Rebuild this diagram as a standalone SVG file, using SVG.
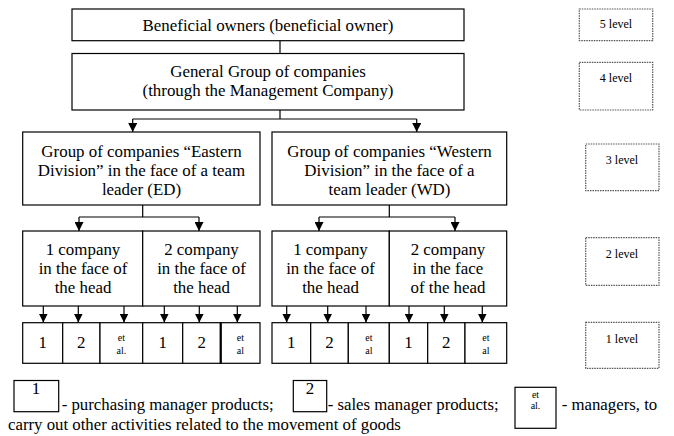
<svg xmlns="http://www.w3.org/2000/svg" width="674" height="436" viewBox="0 0 674 436" font-family="Liberation Serif, Times New Roman, serif">
<defs>
<style>
.b{fill:#fff;stroke:#000;stroke-width:1.2}
.lv{fill:#fff;stroke:#555;stroke-width:1.2;stroke-dasharray:1.5 1}
.t{font-size:16.9px;fill:#000;text-anchor:middle}
.s{font-size:12px;fill:#000;text-anchor:middle}
.x{font-size:10px;fill:#000;text-anchor:middle}
.l{font-size:16.8px;fill:#000}
.c{fill:none;stroke:#000;stroke-width:1.2}
.a{fill:none;stroke:#000;stroke-width:1.2;marker-end:url(#ah)}
</style>
<marker id="ah" viewBox="0 0 10 10" refX="10" refY="5" markerWidth="9" markerHeight="9" markerUnits="userSpaceOnUse" orient="auto">
<path d="M0,0 L10,5 L0,10 z" fill="#000"/>
</marker>
</defs>
<rect width="674" height="436" fill="#fff"/>

<g id="connectors">
<path class="c" d="M280,40.7 V53.5"/>
<path class="c" d="M280,110 V119 M132.7,119 H416.7"/>
<path class="a" d="M132.7,119 V132"/>
<path class="a" d="M416.7,119 V132"/>
<path class="c" d="M142.7,205 V217 M79,217 H199"/>
<path class="a" d="M79,217 V231"/>
<path class="a" d="M199,217 V231"/>
<path class="c" d="M389.3,205 V217 M319,217 H455"/>
<path class="a" d="M319,217 V231"/>
<path class="a" d="M455,217 V231"/>
<path class="a" d="M43.3,306 V322.5"/>
<path class="a" d="M78.3,306 V322.5"/>
<path class="a" d="M124,306 V322.5"/>
<path class="a" d="M164.3,306 V322.5"/>
<path class="a" d="M199.3,306 V322.5"/>
<path class="a" d="M237.3,306 V322.5"/>
<path class="a" d="M286.7,306 V322.5"/>
<path class="a" d="M327.7,306 V322.5"/>
<path class="a" d="M366,306 V322.5"/>
<path class="a" d="M409,306 V322.5"/>
<path class="a" d="M444.3,306 V322.5"/>
<path class="a" d="M482.3,306 V322.5"/>
</g>

<g id="beneficial">
<rect class="b" x="72" y="9" width="392" height="31.7"/>
<text class="t" x="268" y="31">Beneficial owners (beneficial owner)</text>
</g>
<g id="general">
<rect class="b" x="72" y="53.5" width="392" height="56.5"/>
<text class="t" x="268" y="77">General Group of companies</text>
<text class="t" x="268" y="96">(through the Management Company)</text>
</g>
<g id="eastern">
<rect class="b" x="22.7" y="132" width="237.3" height="73"/>
<text class="t" x="141.5" y="157">Group of companies “Eastern</text>
<text class="t" x="141.5" y="176">Division” in the face of a team</text>
<text class="t" x="141.5" y="195">leader (ED)</text>
</g>
<g id="western">
<rect class="b" x="272" y="132" width="234.7" height="73"/>
<text class="t" x="389.5" y="157">Group of companies “Western</text>
<text class="t" x="389.5" y="176">Division” in the face of a</text>
<text class="t" x="389.5" y="195">team leader (WD)</text>
</g>
<g id="ed-company1">
<rect class="b" x="22.7" y="231" width="120" height="75"/>
<text class="t" x="83" y="255">1 company</text>
<text class="t" x="83" y="274">in the face of</text>
<text class="t" x="83" y="293">the head</text>
</g>
<g id="ed-company2">
<rect class="b" x="142.7" y="231" width="117.3" height="75"/>
<text class="t" x="201.5" y="255">2 company</text>
<text class="t" x="201.5" y="274">in the face of</text>
<text class="t" x="201.5" y="293">the head</text>
</g>
<g id="wd-company1">
<rect class="b" x="272" y="231" width="117.3" height="75"/>
<text class="t" x="330.5" y="255">1 company</text>
<text class="t" x="330.5" y="274">in the face of</text>
<text class="t" x="330.5" y="293">the head</text>
</g>
<g id="wd-company2">
<rect class="b" x="389.3" y="231" width="117.4" height="75"/>
<text class="t" x="448" y="255">2 company</text>
<text class="t" x="448" y="274">in the face</text>
<text class="t" x="448" y="293">of the head</text>
</g>

<g id="managers-ed">
<rect class="b" x="22.7" y="322.7" width="40" height="40.6"/>
<rect class="b" x="62.7" y="322.7" width="37.3" height="40.6"/>
<rect class="b" x="100" y="322.7" width="42.7" height="40.6"/>
<rect class="b" x="142.7" y="322.7" width="40" height="40.6"/>
<rect class="b" x="182.7" y="322.7" width="38" height="40.6"/>
<rect class="b" x="220.7" y="322.7" width="39.3" height="40.6"/>
<path d="M220.7,322.7 V363.3" stroke="#000" stroke-width="2.2"/>
<text class="t" x="42.7" y="347.5">1</text>
<text class="t" x="81.3" y="347.5">2</text>
<text class="x" x="121.3" y="341">et</text>
<text class="x" x="121.3" y="354">al.</text>
<text class="t" x="162.7" y="347.5">1</text>
<text class="t" x="201.7" y="347.5">2</text>
<text class="x" x="240.3" y="341">et</text>
<text class="x" x="240.3" y="354">al</text>
</g>
<g id="managers-wd">
<rect class="b" x="272" y="322.7" width="38.7" height="40.6"/>
<rect class="b" x="310.7" y="322.7" width="37.6" height="40.6"/>
<rect class="b" x="348.3" y="322.7" width="41" height="40.6"/>
<rect class="b" x="389.3" y="322.7" width="38.4" height="40.6"/>
<rect class="b" x="427.7" y="322.7" width="37.3" height="40.6"/>
<rect class="b" x="465" y="322.7" width="41.7" height="40.6"/>
<text class="t" x="291.3" y="347.5">1</text>
<text class="t" x="329.5" y="347.5">2</text>
<text class="x" x="368.8" y="341">et</text>
<text class="x" x="368.8" y="354">al</text>
<text class="t" x="408.5" y="347.5">1</text>
<text class="t" x="446.3" y="347.5">2</text>
<text class="x" x="485.8" y="341">et</text>
<text class="x" x="485.8" y="354">al</text>
</g>

<g id="level5">
<rect class="lv" x="579.3" y="9" width="73.4" height="31.7"/>
<text class="s" x="616" y="28">5 level</text>
</g>
<g id="level4">
<rect class="lv" x="579.3" y="62.3" width="73.4" height="47.7"/>
<text class="s" x="616" y="82">4 level</text>
</g>
<g id="level3">
<rect class="lv" x="585.7" y="144" width="73.3" height="46.7"/>
<text class="s" x="622" y="163.5">3 level</text>
</g>
<g id="level2">
<rect class="lv" x="585.7" y="237.7" width="73.3" height="47.6"/>
<text class="s" x="622" y="257.5">2 level</text>
</g>
<g id="level1">
<rect class="lv" x="585.7" y="322.3" width="73.3" height="46"/>
<text class="s" x="622" y="342.5">1 level</text>
</g>

<g id="legend">
<rect class="b" x="14" y="380.5" width="44.7" height="31.2"/>
<text class="t" x="36" y="394">1</text>
<text class="l" x="61.7" y="410">- purchasing manager products;</text>
<rect class="b" x="293.3" y="380.5" width="33.4" height="31.2"/>
<text class="t" x="310" y="394">2</text>
<text class="l" x="327.7" y="410">- sales manager products;</text>
<rect class="b" x="515" y="387.3" width="41" height="41"/>
<text class="x" x="535.5" y="398">et</text>
<text class="x" x="535.5" y="409">al.</text>
<text class="l" x="561.7" y="410">- managers, to</text>
<text class="l" x="8" y="430">carry out other activities related to the movement of goods</text>
</g>
</svg>
